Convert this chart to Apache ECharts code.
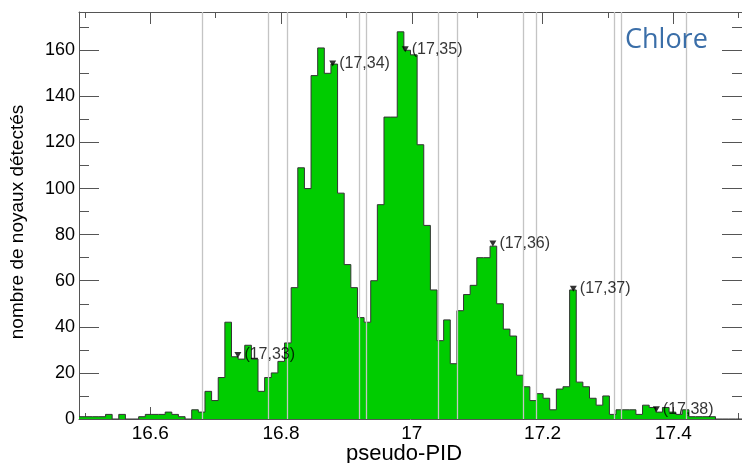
<!DOCTYPE html>
<html>
<head>
<meta charset="utf-8">
<script src="https://cdn.jsdelivr.net/npm/echarts@6/dist/echarts.min.js"></script>
<style>
  html, body { margin: 0; padding: 0; background: #fff; }
  #chlore { width: 742px; height: 463px; }
</style>
</head>
<body>
<div id="chlore"></div>
<script>
// histogram range (100 bins over the x axis)
var xMin = 16.491;
var xMax = 17.505;
var nBins = 100;

// counts per bin
var counts = [
  1, 1, 1, 1, 2, 0, 2, 0, 0, 1,
  2, 2, 2, 3, 2, 1, 0, 4, 3, 12,
  8, 18, 42, 27, 26, 32, 26, 12, 18, 20,
  25, 33, 57, 109, 100, 149, 161, 150, 154, 98,
  67, 57, 44, 42, 60, 93, 131, 131, 168, 160,
  158, 119, 84, 56, 34, 43, 24, 47, 54, 58,
  70, 70, 75, 50, 39, 36, 19, 14, 8, 11,
  9, 4, 13, 14, 56, 16, 14, 9, 6, 10,
  2, 4, 4, 4, 2, 6, 5, 3, 5, 3,
  2, 4, 1, 1, 1, 1, 0, 0, 0, 0
];

// isotope markers (Z,A)
var peakLabels = ["(17,33)", "(17,34)", "(17,35)", "(17,36)", "(17,37)", "(17,38)"];
var peakX = [16.734, 16.879, 16.990, 17.124, 17.247, 17.374];
var peakY = [27.8, 154.3, 160.4, 76.2, 56.5, 4.2];

// grey separation lines
var cutLines = [16.680, 16.776, 16.811, 16.920, 16.935, 17.044, 17.066, 17.169, 17.194, 17.309, 17.323, 17.423];

// tick values
var xMajor = [16.6, 16.8, 17, 17.2, 17.4];
var xMinor = [16.5, 16.7, 16.9, 17.1, 17.3, 17.5];
var yMajor = [0, 20, 40, 60, 80, 100, 120, 140, 160];
var yMinor = [10, 30, 50, 70, 90, 110, 130, 150, 170];
var yMax = 176.6;

var binW = (xMax - xMin) / nBins;
var histData = counts.map(function (c, i) { return [xMin + i * binW, c]; });
histData.push([xMax, counts[counts.length - 1]]);

var peakData = peakX.map(function (x, i) {
  return { name: peakLabels[i], value: [x, peakY[i]] };
});

var font = "Liberation Sans";
var axisCol = "#555";

function xAx(pos, ticks, len, withLine, withLabel) {
  return {
    type: "value", position: pos, min: xMin, max: xMax,
    axisLine: { show: withLine, onZero: false, lineStyle: { color: axisCol, width: 1 } },
    axisTick: { show: true, inside: true, length: len, customValues: ticks, lineStyle: { color: axisCol } },
    axisLabel: withLabel ? {
      show: true, customValues: ticks, color: "#000", fontSize: 19, fontFamily: font, margin: 5,
      formatter: function (v) { return String(+v.toFixed(1)); }
    } : { show: false },
    splitLine: { show: false }
  };
}
function yAx(pos, ticks, len, withLine, withLabel) {
  return {
    type: "value", position: pos, min: 0, max: yMax,
    axisLine: { show: withLine, onZero: false, lineStyle: { color: axisCol, width: 1 } },
    axisTick: { show: true, inside: true, length: len, customValues: ticks, lineStyle: { color: axisCol } },
    axisLabel: withLabel ? {
      show: true, customValues: ticks, color: "#000", fontSize: 18, fontFamily: font, margin: 4
    } : { show: false },
    splitLine: { show: false }
  };
}

var chart = echarts.init(document.getElementById("chlore"));
var option = {
  animation: false,
  backgroundColor: "#fff",
  grid: { left: 79, top: 12, width: 669, height: 407, containLabel: false },
  xAxis: [
    xAx("bottom", xMajor, 12, true, true),
    xAx("bottom", xMinor, 6, false, false),
    xAx("top", xMajor, 12, true, false),
    xAx("top", xMinor, 6, false, false)
  ],
  yAxis: [
    yAx("left", yMajor, 20, true, true),
    yAx("left", yMinor, 10, false, false),
    yAx("right", yMajor, 20, true, false),
    yAx("right", yMinor, 10, false, false)
  ],
  series: [
    {
      name: "histo",
      type: "line",
      step: "end",
      data: histData,
      symbol: "none",
      z: 2,
      lineStyle: { color: "#333", width: 1 },
      areaStyle: { color: "#00cc00", opacity: 1 }
    },
    {
      name: "cuts",
      type: "line",
      data: [],
      z: 4,
      markLine: {
        silent: true,
        symbol: "none",
        label: { show: false },
        lineStyle: { color: "#c4c4c4", width: 1.3, type: "solid" },
        data: cutLines.map(function (x) { return { xAxis: x }; })
      }
    },
    {
      name: "pics",
      type: "scatter",
      data: peakData,
      z: 5,
      symbol: "triangle",
      symbolRotate: 180,
      symbolSize: [7, 6],
      itemStyle: { color: "#000" },
      label: {
        show: true,
        position: "right",
        distance: 3,
        color: "#000",
        textBorderWidth: 0,
        fontSize: 16,
        fontFamily: font,
        formatter: "{b}"
      }
    }
  ],
  graphic: [
    {
      type: "text", x: 404, y: 454, z: 10,
      style: { text: "pseudo-PID", font: "22px " + font, fill: "#000",
        align: "center", verticalAlign: "middle", textAlign: "center", textVerticalAlign: "middle" }
    },
    {
      type: "text", x: 18, y: 222, rotation: Math.PI / 2, z: 10,
      style: { text: "nombre de noyaux détectés", font: "19px " + font, fill: "#000",
        align: "center", verticalAlign: "middle", textAlign: "center", textVerticalAlign: "middle" }
    },
    {
      type: "text", x: 625, y: 40, z: 10,
      style: { text: "Chlore", font: "27px 'Open Sans'", fill: "#3a6ea8",
        align: "left", verticalAlign: "middle", textAlign: "left", textVerticalAlign: "middle" }
    }
  ]
};
chart.setOption(option);
</script>
</body>
</html>
